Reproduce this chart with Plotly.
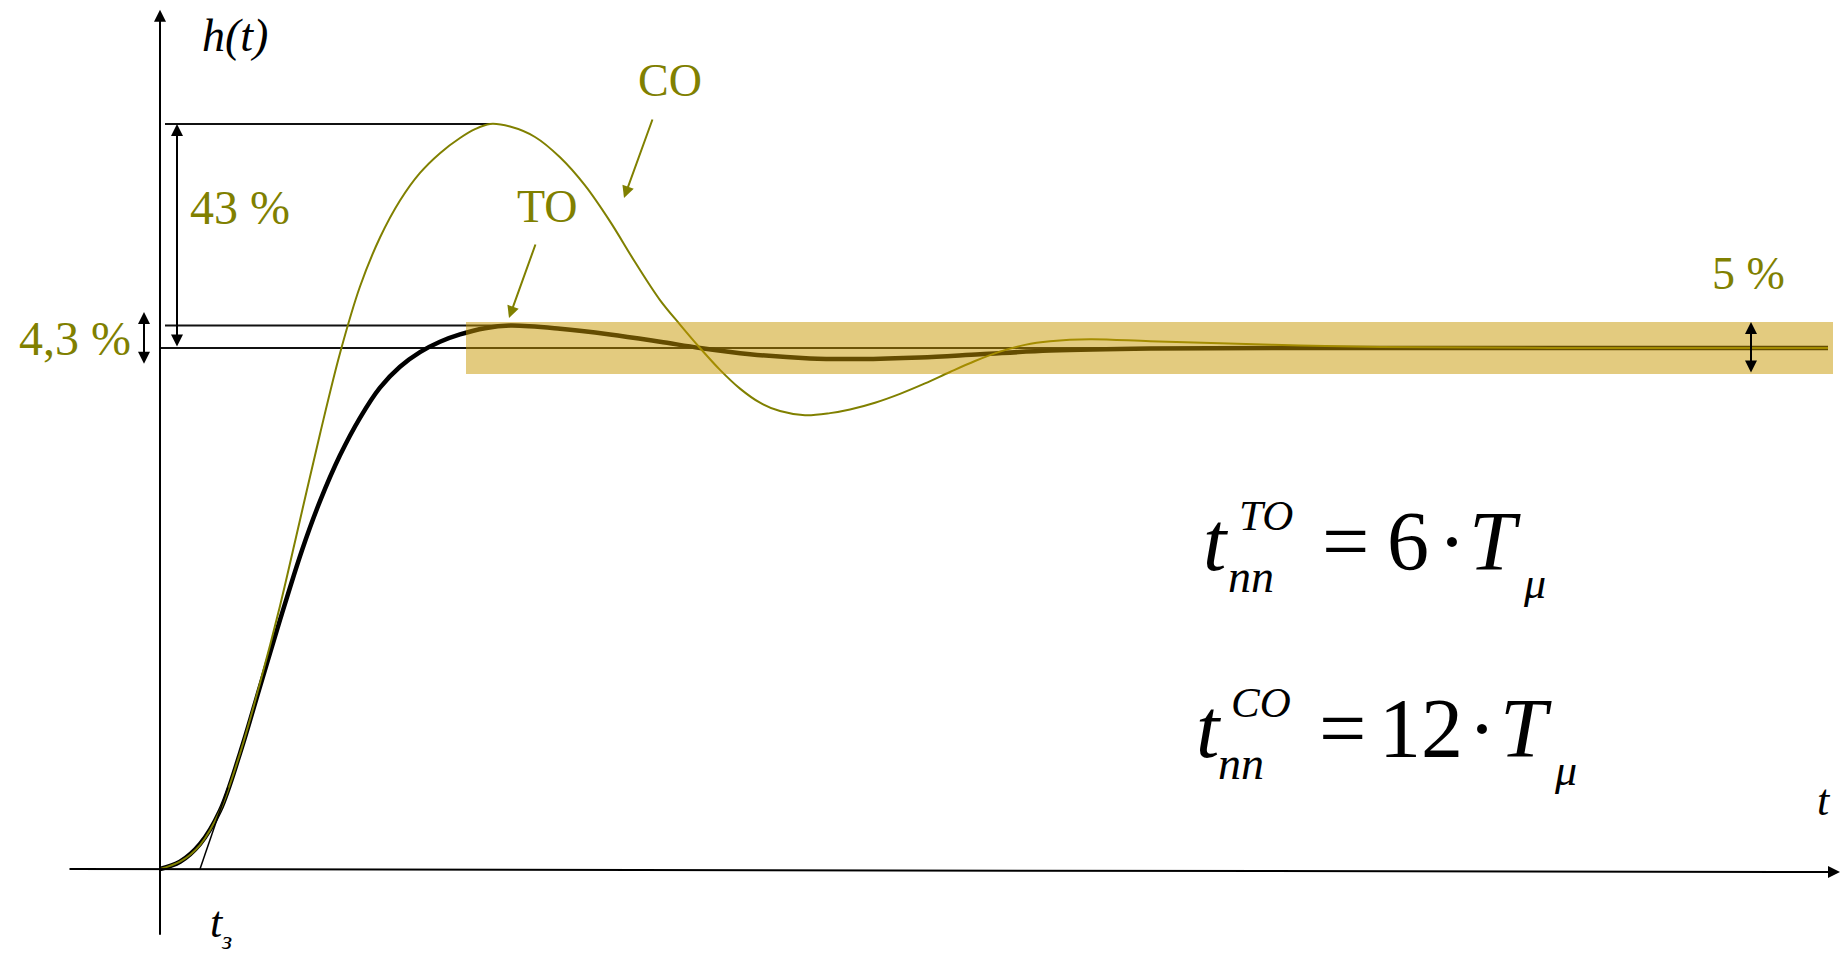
import plotly.graph_objects as go

W, H = 1847, 955

# Step responses h(t): technical optimum (TO) and symmetric optimum (CO)
t_to = [0, 0.2, 0.4, 0.6, 0.8, 1.0, 1.2, 1.42, 1.6, 1.8, 2.0, 2.2, 2.4, 2.6, 2.8, 3.0, 3.25, 3.5,
        4.0, 4.5, 5.0, 5.4, 5.9, 6.5, 7.0, 7.6, 8.2, 8.9, 9.9, 11.4, 13.4, 16.68]
h_to = [0, 0.014, 0.048, 0.112, 0.222, 0.350, 0.478, 0.612, 0.706, 0.794, 0.866, 0.924, 0.964, 0.992, 1.012, 1.026, 1.038, 1.043,
        1.037, 1.026, 1.012, 1.000, 0.988, 0.980, 0.979, 0.982, 0.988, 0.995, 0.999, 1.000, 1.000, 1.000]

t_co = [0, 0.2, 0.4, 0.6, 0.8, 1.0, 1.2, 1.4, 1.6, 1.8, 2.0, 2.2, 2.4, 2.6, 2.8, 3.0, 3.15, 3.3,
        3.5, 3.75, 4.0, 4.25, 4.5, 4.75, 5.0, 5.2, 5.4, 5.6, 5.8, 6.0, 6.2, 6.45, 6.7, 6.9, 7.15,
        7.4, 7.65, 7.9, 8.15, 8.4, 8.65, 8.9, 9.3, 9.9, 10.6, 11.4, 12.2, 13.9, 16.68]
h_co = [0, 0.014, 0.046, 0.112, 0.222, 0.357, 0.505, 0.670, 0.835, 0.990, 1.118, 1.212, 1.283, 1.336, 1.374, 1.403, 1.420, 1.430,
        1.425, 1.405, 1.366, 1.312, 1.243, 1.165, 1.092, 1.045, 1.000, 0.958, 0.922, 0.895, 0.879, 0.871, 0.875, 0.882, 0.895,
        0.912, 0.932, 0.954, 0.975, 0.993, 1.006, 1.013, 1.017, 1.013, 1.009, 1.005, 1.002, 1.000, 1.000]

# Tangent at the inflection point, its crossing with the t axis gives t_з
tangent_t = [0.40, 0.68]
tangent_h = [0.0, 0.157]

h_set = 1.0            # steady-state value
overshoot_co = 0.43    # 43 %
overshoot_to = 0.043   # 4,3 %
tol = 0.05             # ±5 % band
t_peak_co = 3.30
t_peak_to = 3.50
band_t = [3.06, 16.73]
t_end = 16.68

T_RANGE = [-1.60, 16.87]
H_RANGE = [-0.16507, 1.66795]

OLIVE = "#808000"
BAND = "rgba(200,152,0,0.5)"
INK = "#000000"
SERIF = "Liberation Serif, Times New Roman, serif"


def px(x):
    return x / W


def py(y):
    return 1 - y / H


fig = go.Figure()

fig.add_trace(go.Scatter(x=t_to, y=h_to, mode="lines", hoverinfo="skip",
                         line=dict(color=INK, width=4.5, shape="spline", smoothing=1.0)))
fig.add_trace(go.Scatter(x=t_co, y=h_co, mode="lines", hoverinfo="skip",
                         line=dict(color=OLIVE, width=2, shape="spline", smoothing=1.0)))
fig.add_trace(go.Scatter(x=tangent_t, y=tangent_h, mode="lines", hoverinfo="skip",
                         line=dict(color=INK, width=1.5)))

# reference levels
line_style = dict(color="#111111", width=2)
fig.add_shape(type="line", xref="x", yref="y", x0=0, x1=t_end, y0=h_set, y1=h_set,
              line=line_style, layer="below")
fig.add_shape(type="line", xref="x", yref="y", x0=0.05, x1=t_peak_co,
              y0=h_set + overshoot_co, y1=h_set + overshoot_co, line=line_style, layer="below")
fig.add_shape(type="line", xref="x", yref="y", x0=0.05, x1=t_peak_to,
              y0=h_set + overshoot_to, y1=h_set + overshoot_to, line=line_style, layer="below")

# ±5 % band, translucent over the curves
fig.add_shape(type="rect", xref="x", yref="y", x0=band_t[0], x1=band_t[1],
              y0=h_set - tol, y1=h_set + tol, fillcolor=BAND, line=dict(width=0), layer="above")


def arrow(x, y, ax, ay, both=False, color=INK, width=2, size=1.2):
    kw = dict(x=x, y=y, ax=ax, ay=ay, xref="x", yref="y", axref="x", ayref="y",
              text="", showarrow=True, arrowhead=2, arrowsize=size, arrowwidth=width,
              arrowcolor=color, standoff=0, startstandoff=0)
    if both:
        kw.update(arrowside="end+start", startarrowhead=2, startarrowsize=size)
    fig.add_annotation(**kw)


# coordinate axes
arrow(0, 1.649, 0, -0.129)
arrow(16.80, -0.006, -0.92, 0.0)

# dimension arrows
arrow(0.17, h_set + overshoot_co, 0.17, h_set, both=True)
arrow(-0.16, 1.069, -0.16, 0.967, both=True)
arrow(15.91, h_set + tol, 15.91, h_set - tol, both=True)

# pointers to the curves
for hx, hy, dx, dy in [(624, 198, 29, -80), (509, 318, 27, -75)]:
    fig.add_annotation(x=px(hx), y=py(hy), xref="paper", yref="paper", ax=dx, ay=dy,
                       axref="pixel", ayref="pixel", text="", showarrow=True, arrowhead=2,
                       arrowsize=1.2, arrowwidth=2, arrowcolor=OLIVE, standoff=0)


def label(text, x, y, size, color=INK, anchor="center"):
    fig.add_annotation(x=px(x), y=py(y), xref="paper", yref="paper", text=text,
                       showarrow=False, xanchor=anchor, yanchor="middle", borderpad=0,
                       font=dict(family=SERIF, size=size, color=color))


label("<i>h(t)</i>", 235, 36, 46)
label("<i>t</i>", 1824, 800, 44)
label("<i>t</i>", 217, 922, 44)
label("<i>з</i>", 226, 940, 26)

label("43 %", 189, 208, 48, OLIVE, "left")
label("4,3 %", 18, 338, 48, OLIVE, "left")
label("CO", 670, 81, 46, OLIVE)
label("TO", 547, 206, 46, OLIVE)
label("5 %", 1748, 273, 46, OLIVE)

# settling-time formulas
for dy, sup, num, xs in [(0, "TO", "6", dict(t=1216, sup=1266, nn=1251, eq=1345, num=1408, dot=1452, T=1495, mu=1534)),
                         (187, "CO", "12", dict(t=1209, sup=1261, nn=1241, eq=1342, num=1421, dot=1482, T=1526, mu=1565))]:
    label("<i>t</i>", xs["t"], 541 + dy, 84)
    label("<i>" + sup + "</i>", xs["sup"], 515 + dy, 43)
    label("<i>nn</i>", xs["nn"], 576 + dy, 46)
    label("=", xs["eq"], 541 + dy, 84)
    label(num, xs["num"], 541 + dy, 84)
    label("·", xs["dot"], 541 + dy, 84)
    label("<i>T</i>", xs["T"], 541 + dy, 84)
    label("<i>μ</i>", xs["mu"], 583 + dy, 44)

fig.update_layout(
    width=W, height=H,
    margin=dict(l=0, r=0, t=0, b=0, pad=0),
    paper_bgcolor="white", plot_bgcolor="white",
    showlegend=False,
    xaxis=dict(range=T_RANGE, visible=False, fixedrange=True),
    yaxis=dict(range=H_RANGE, visible=False, fixedrange=True),
)

fig.write_html("out.html", config={"displayModeBar": False})
